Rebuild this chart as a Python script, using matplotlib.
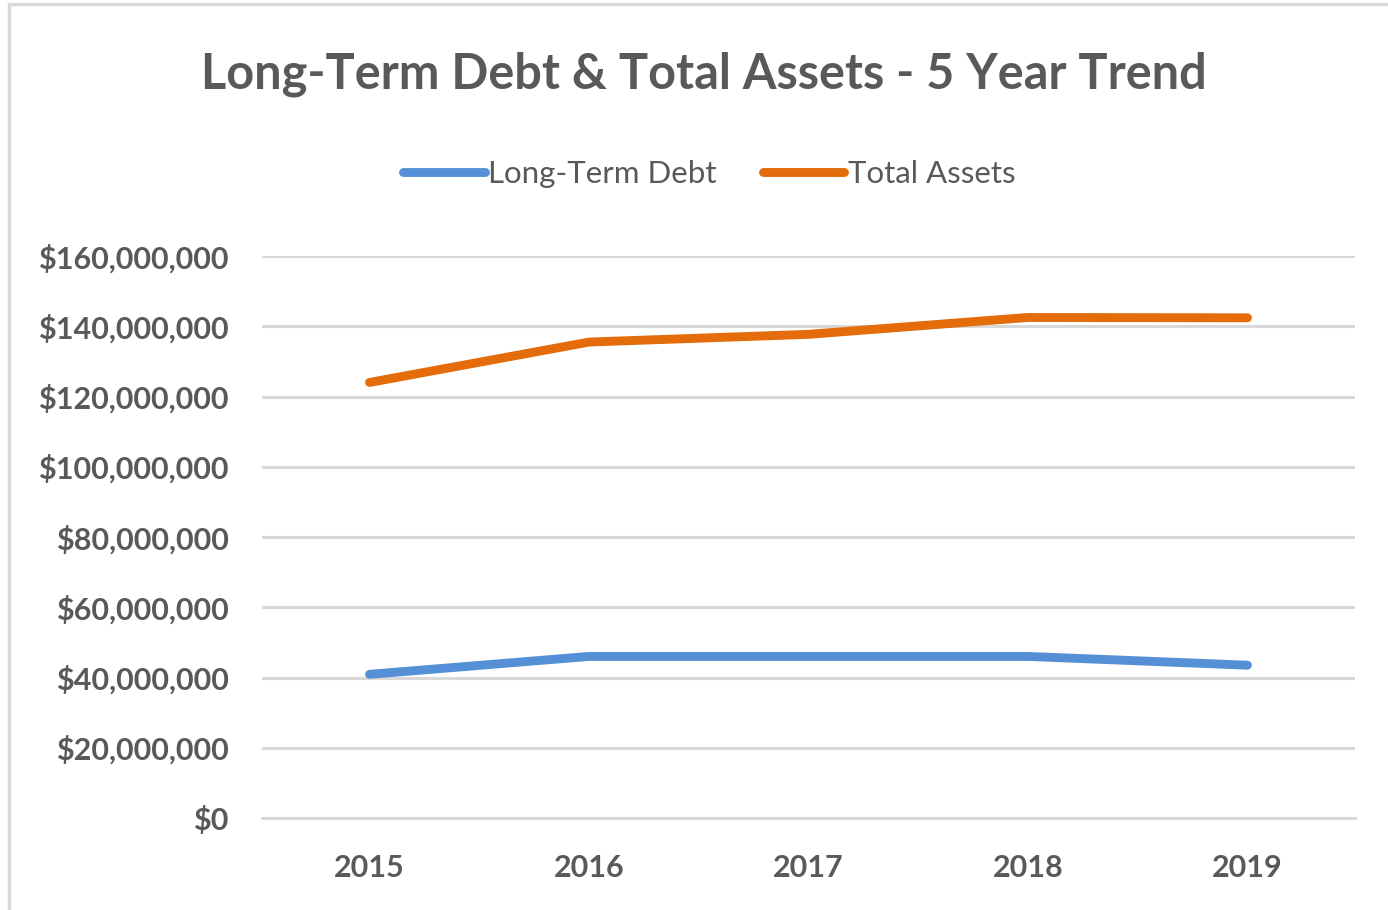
from matplotlib import pyplot as plt
from matplotlib.patches import Rectangle
from matplotlib.ticker import FuncFormatter

years = ['2015', '2016', '2017', '2018', '2019']
long_term_debt = [40.9e6, 46.0e6, 46.0e6, 46.0e6, 43.5e6]
total_assets = [124.0e6, 135.5e6, 137.7e6, 142.5e6, 142.4e6]

plt.rcParams['font.family'] = ['Lato', 'DejaVu Sans']
text_col = '#595959'
grid_col = '#d9d9d9'

fig = plt.figure(figsize=(13.88, 9.10), dpi=100)
ax = fig.add_axes([262/1388, 1-818/910, (1355-262)/1388, (818-256)/910])

# chart border
fig.patches.append(Rectangle((9/1388, -0.05), 1.1, 1-4/910+0.05, transform=fig.transFigure,
                             fill=False, edgecolor=grid_col, linewidth=2.5))

x = range(len(years))
ax.plot(x, long_term_debt, color='#5590D6', linewidth=6.4, solid_capstyle='round',
        solid_joinstyle='round', label='Long-Term Debt', zorder=3)
ax.plot(x, total_assets, color='#E46C0A', linewidth=6.4, solid_capstyle='round',
        solid_joinstyle='round', label='Total Assets', zorder=3)

ax.set_xlim(-0.49, 4.49)
ax.set_ylim(0, 160e6)
ax.set_yticks(range(0, 160000001, 20000000))
ax.yaxis.set_major_formatter(FuncFormatter(lambda v, p: '${:,.0f}'.format(v)))
ax.set_xticks(list(x))
ax.set_xticklabels(years)

ax.grid(axis='y', color=grid_col, linewidth=2.2)
ax.set_axisbelow(True)
for s in ['top', 'right', 'left']:
    ax.spines[s].set_visible(False)
ax.spines['bottom'].set_color(grid_col)
ax.spines['bottom'].set_linewidth(2.2)
ax.tick_params(length=0, colors=text_col, labelsize=22)
ax.tick_params(axis='y', pad=24)
ax.tick_params(axis='x', pad=26)
for lbl in ax.get_xticklabels() + ax.get_yticklabels():
    lbl.set_fontweight('bold')

fig.text(0.507, 1-74/910, 'Long-Term Debt & Total Assets - 5 Year Trend', ha='center', va='center',
         fontsize=35, fontweight='bold', color=text_col)

leg = fig.legend(loc='center', bbox_to_anchor=(0.511, 1-174/910), ncol=2, frameon=False,
                 fontsize=22.5, handlelength=2.6, handletextpad=0.1, columnspacing=1.5)
for t in leg.get_texts():
    t.set_color(text_col)

fig.savefig('out.png', dpi=100)
